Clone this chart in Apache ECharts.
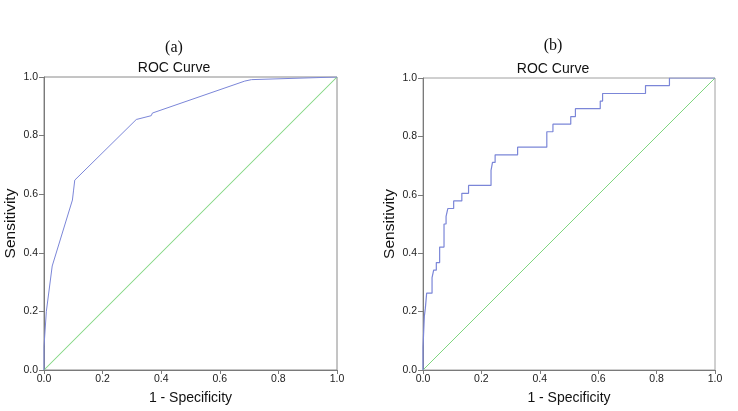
<!DOCTYPE html>
<html>
<head>
<meta charset="utf-8">
<script src="https://cdn.jsdelivr.net/npm/echarts@6/dist/echarts.min.js"></script>
<style>
  html, body { margin: 0; padding: 0; background: #fff; }
  #chart { width: 738px; height: 411px; }
</style>
</head>
<body>
<div id="chart"></div>
<script>
// Panel (a): ROC curve points (1 - Specificity, Sensitivity)
const fprA = [0, 0, 0.008, 0.028, 0.097, 0.101, 0.105, 0.315, 0.366, 0.370, 0.685, 0.708, 1.0];
const tprA = [0, 0.08, 0.20, 0.355, 0.58, 0.614, 0.648, 0.855, 0.868, 0.877, 0.986, 0.991, 1.0];

// Panel (b): step ROC curve corner points
const fprB = [0, 0, 0.0046, 0.008, 0.0125, 0.031, 0.0365, 0.0456, 0.057, 0.072, 0.079, 0.085, 0.105, 0.133, 0.156, 0.233, 0.238, 0.247, 0.324, 0.424, 0.445, 0.506, 0.522, 0.607, 0.615, 0.762, 0.844, 1.0];
const tprB = [0, 0.079, 0.184, 0.211, 0.263, 0.316, 0.342, 0.368, 0.421, 0.500, 0.526, 0.553, 0.579, 0.605, 0.632, 0.684, 0.711, 0.737, 0.763, 0.816, 0.842, 0.868, 0.895, 0.921, 0.947, 0.974, 1.0, 1.0];

// Reference diagonal
const diagX = [0, 1];
const diagY = [0, 1];

const tickLabels = ['0.0', '0.2', '0.4', '0.6', '0.8', '1.0'];
const panelLabels = ['(a)', '(b)'];
const chartTitle = 'ROC Curve';
const xName = '1 - Specificity';
const yName = 'Sensitivity';

const zip = (xs, ys) => xs.map((x, i) => [x, ys[i]]);

const blue = '#7b86d8';
const green = '#7fd67f';
const axisCol = '#7a7a7a';

function makeX(idx) {
  return {
    gridIndex: idx, type: 'value', min: 0, max: 1, interval: 0.2,
    name: xName, nameLocation: 'middle', nameGap: 21,
    nameTextStyle: { fontFamily: 'Liberation Sans', fontSize: 14, color: '#111' },
    axisLine: { show: true, lineStyle: { color: axisCol, width: 1 } },
    axisTick: { show: true, length: 4, lineStyle: { color: axisCol } },
    axisLabel: { margin: 4, fontFamily: 'Liberation Sans', fontSize: 10.5, color: '#222',
      formatter: v => tickLabels[Math.round(v * 5)] },
    splitLine: { show: false }
  };
}
function makeY(idx) {
  return {
    gridIndex: idx, type: 'value', min: 0, max: 1, interval: 0.2,
    name: yName, nameLocation: 'middle', nameGap: 25,
    nameTextStyle: { fontFamily: 'Liberation Sans', fontSize: 15.5, color: '#111' },
    axisLine: { show: true, lineStyle: { color: axisCol, width: 1 } },
    axisTick: { show: true, length: 5, lineStyle: { color: axisCol } },
    axisLabel: { margin: 6, fontFamily: 'Liberation Sans', fontSize: 10.5, color: '#222',
      formatter: v => tickLabels[Math.round(v * 5)] },
    splitLine: { show: false }
  };
}

const chart = echarts.init(document.getElementById('chart'), null, { renderer: 'canvas' });
chart.setOption({
  animation: false,
  backgroundColor: '#fff',
  title: [
    { text: panelLabels[0], left: 169, top: 35, textAlign: 'center',
      textStyle: { fontFamily: 'Liberation Serif', fontSize: 16, fontWeight: 'normal', color: '#111' } },
    { text: chartTitle, left: 169, top: 56, textAlign: 'center',
      textStyle: { fontFamily: 'Liberation Sans', fontSize: 14, fontWeight: 'normal', color: '#111' } },
    { text: panelLabels[1], left: 548, top: 33, textAlign: 'center',
      textStyle: { fontFamily: 'Liberation Serif', fontSize: 16, fontWeight: 'normal', color: '#111' } },
    { text: chartTitle, left: 548, top: 57, textAlign: 'center',
      textStyle: { fontFamily: 'Liberation Sans', fontSize: 14, fontWeight: 'normal', color: '#111' } }
  ],
  grid: [
    { left: 44, top: 77, width: 293, height: 293, show: true, borderColor: '#8a8a8a', borderWidth: 1, backgroundColor: 'transparent' },
    { left: 423, top: 78, width: 292, height: 292, show: true, borderColor: '#a0a0a0', borderWidth: 1, backgroundColor: 'transparent' }
  ],
  xAxis: [makeX(0), makeX(1)],
  yAxis: [makeY(0), makeY(1)],
  series: [
    { type: 'line', xAxisIndex: 0, yAxisIndex: 0, data: zip(diagX, diagY), showSymbol: false,
      lineStyle: { color: green, width: 1.05 }, z: 2 },
    { type: 'line', xAxisIndex: 0, yAxisIndex: 0, data: zip(fprA, tprA), showSymbol: false,
      lineStyle: { color: blue, width: 1 }, z: 3 },
    { type: 'line', xAxisIndex: 1, yAxisIndex: 1, data: zip(diagX, diagY), showSymbol: false,
      lineStyle: { color: green, width: 1 }, z: 2 },
    { type: 'line', xAxisIndex: 1, yAxisIndex: 1, data: zip(fprB, tprB), showSymbol: false, step: 'end',
      lineStyle: { color: blue, width: 1.2 }, z: 3 }
  ]
});
</script>
</body>
</html>
